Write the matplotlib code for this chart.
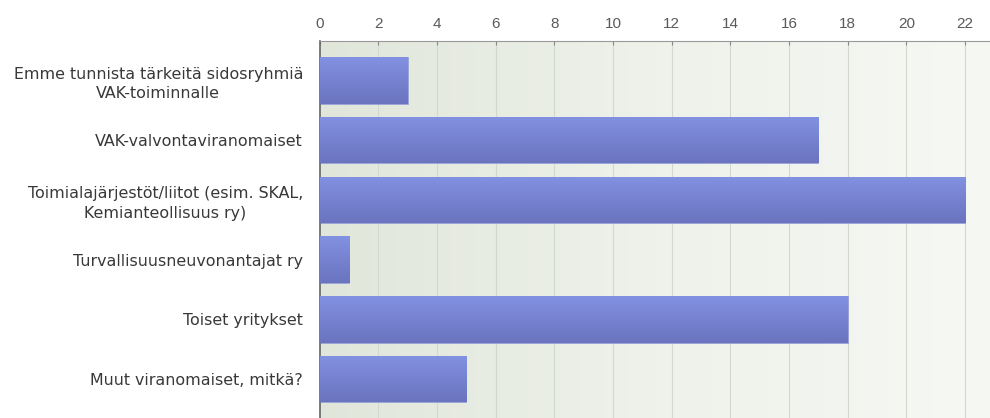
import matplotlib
matplotlib.use("Agg")
import matplotlib.pyplot as plt
import numpy as np
from matplotlib.colors import LinearSegmentedColormap

categories = [
    "Emme tunnista tärkeitä sidosryhmiä\nVAK-toiminnalle",
    "VAK-valvontaviranomaiset",
    "Toimialajärjestöt/liitot (esim. SKAL,\nKemianteollisuus ry)",
    "Turvallisuusneuvonantajat ry",
    "Toiset yritykset",
    "Muut viranomaiset, mitkä?",
]
values = [3, 17, 22, 1, 18, 5]
xticks = [0, 2, 4, 6, 8, 10, 12, 14, 16, 18, 20, 22]

plt.rcParams["font.family"] = ["Liberation Sans", "DejaVu Sans"]

fig = plt.figure(figsize=(9.9, 4.18), dpi=100)
ax = fig.add_axes([0.323, 0.0, 0.677, 0.902])

y = np.arange(len(categories))
ax.set_xlim(0, 22.85)
ax.set_ylim(len(categories) - 0.35, -0.66)

# background gradient (left greyish green -> right almost white)
bg = LinearSegmentedColormap.from_list("bg", ["#e1e6db", "#eef2ea", "#f6f8f4"])
ax.imshow(np.linspace(0, 1, 256).reshape(1, -1), cmap=bg, aspect="auto",
          extent=[0, 1, 0, 1], transform=ax.transAxes, zorder=0)

for t in xticks[1:]:
    ax.axvline(t, color="#d3d8ce", linewidth=0.8, zorder=1)

# bars with vertical gradient
bar_cm = LinearSegmentedColormap.from_list("bar", ["#8391e2", "#6a74bf"])
bars = ax.barh(y, values, height=0.78, color="#7884d2", zorder=2,
               edgecolor="#9aa3d8", linewidth=0.6)
for b in bars:
    x0, y0 = b.get_x(), b.get_y()
    w, h = b.get_width(), b.get_height()
    im = ax.imshow(np.linspace(0, 1, 64).reshape(-1, 1), cmap=bar_cm,
                   aspect="auto", extent=[x0, x0 + w, y0 + h, y0], zorder=3)
    im.set_clip_path(b)

ax.set_xticks(xticks)
ax.xaxis.tick_top()
ax.tick_params(axis="x", direction="in", length=3, color="#888888",
               labelsize=11, labelcolor="#5a5a5a", pad=7)
ax.set_yticks(y)
ax.set_yticklabels(categories, fontsize=11.4, color="#383838",
                   family=["DejaVu Sans"], multialignment="center",
                   linespacing=1.35)
ax.tick_params(axis="y", length=0, pad=12)

for s in ["right", "bottom"]:
    ax.spines[s].set_visible(False)
ax.spines["top"].set_color("#999999")
ax.spines["left"].set_color("#666666")
ax.spines["left"].set_linewidth(1.2)

fig.savefig("out.png", dpi=100)
